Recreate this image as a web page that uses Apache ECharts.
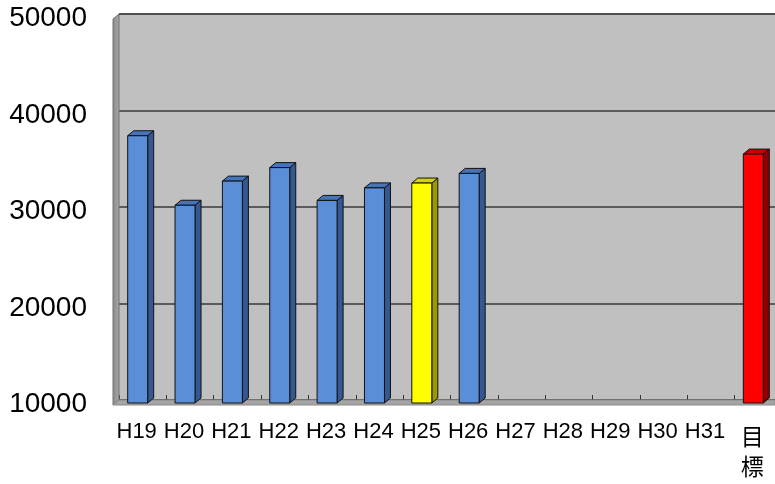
<!DOCTYPE html>
<html>
<head>
<meta charset="utf-8">
<script src="https://cdn.jsdelivr.net/npm/echarts@6/dist/echarts.min.js"></script>
<style>
  html, body { margin: 0; padding: 0; background: #fff; }
  #chart { width: 775px; height: 484px; }
</style>
</head>
<body>
<div id="chart"></div>
<script>
const categories = ['H19', 'H20', 'H21', 'H22', 'H23', 'H24', 'H25', 'H26', 'H27', 'H28', 'H29', 'H30', 'H31', '目標'];
const values = [37900, 30700, 33200, 34600, 31200, 32500, 33000, 34000, null, null, null, null, null, 36000];
const yTicks = [10000, 20000, 30000, 40000, 50000];

// 3d look: depth offset of the front face from the back wall
const DX = 6, DY = 5, BAR_W = 20;

function colorsFor(name) {
    if (name === 'H25') return { face: '#ffff00', side: '#9a9a00', top: '#d4d400' };
    if (name === '目標') return { face: '#ff0000', side: '#8c0000', top: '#c80000' };
    return { face: '#5a8ed8', side: '#34588f', top: '#4674bb' };
}

const barData = [];
values.forEach((v, i) => { if (v != null) barData.push([i, v]); });

const chart = echarts.init(document.getElementById('chart'));

function renderBar(params, api) {
    const idx = api.value(0);
    const p = api.coord([idx, api.value(1)]);
    const base = api.coord([idx, yTicks[0]]);
    const c = colorsFor(categories[idx]);
    const x0 = p[0] - DX - BAR_W / 2 + 1;
    const yTop = p[1] + DY;
    const yBot = base[1] + DY - 2;
    const stroke = { stroke: '#111', lineWidth: 1 };
    return {
        type: 'group',
        children: [
            { type: 'polygon', shape: { points: [[x0 + BAR_W, yTop], [x0 + BAR_W + DX, p[1]], [x0 + BAR_W + DX, base[1] - 2], [x0 + BAR_W, yBot]] },
              style: Object.assign({ fill: c.side }, stroke) },
            { type: 'polygon', shape: { points: [[x0, yTop], [x0 + DX, p[1]], [x0 + BAR_W + DX, p[1]], [x0 + BAR_W, yTop]] },
              style: Object.assign({ fill: c.top }, stroke) },
            { type: 'rect', shape: { x: x0, y: yTop, width: BAR_W, height: yBot - yTop },
              style: Object.assign({ fill: c.face }, stroke) }
        ]
    };
}

const option = {
    animation: false,
    backgroundColor: '#ffffff',
    grid: { left: 119, top: 14, width: 663, bottom: 84, outerBoundsMode: 'none', containLabel: false,
            show: true, backgroundColor: '#c0c0c0', borderWidth: 0 },
    graphic: [
        { type: 'polygon', z: 1, shape: { points: [[113, 19], [119, 14], [119, 400], [113, 405]] },
          style: { fill: new echarts.graphic.LinearGradient(0, 0, 1, 0, [{ offset: 0, color: '#8a8a8a' }, { offset: 1, color: '#a8a8a8' }]), stroke: '#707070', lineWidth: 1 } },
        { type: 'polygon', z: 1, shape: { points: [[113, 405], [119, 400], [775, 400], [775, 405]] },
          style: { fill: '#a4a4a4', stroke: '#8a8a8a', lineWidth: 1 } },
        { type: 'line', z: 1, shape: { x1: 119, y1: 14, x2: 775, y2: 14 }, style: { stroke: '#505050', lineWidth: 2 } }
    ],
    xAxis: {
        type: 'category',
        data: categories,
        axisLine: { show: false },
        axisTick: { show: true, inside: true, length: 5, alignWithLabel: false, lineStyle: { color: '#333' } },
        axisLabel: {
            interval: 0,
            margin: 21,
            color: '#000',
            fontSize: 22,
            fontFamily: 'Liberation Sans',
            padding: [0, 12, 0, 0],
            formatter: v => v === '目標' ? '{t|目}\n{t|標}' : v,
            rich: { t: { fontSize: 23, lineHeight: 30, fontFamily: 'Noto Sans CJK JP', color: '#000' } }
        }
    },
    yAxis: {
        type: 'value',
        min: yTicks[0],
        max: yTicks[yTicks.length - 1],
        interval: 10000,
        axisLine: { show: false },
        axisTick: { show: false },
        axisLabel: {
            margin: 32, color: '#000', fontSize: 28, fontFamily: 'Liberation Sans',
            formatter: v => '{n|' + v + '}',
            rich: { n: { fontSize: 28, fontFamily: 'Liberation Sans', color: '#000', padding: [9, 0, 0, 0] } }
        },
        splitLine: { lineStyle: { color: '#3a3a3a', width: 1.5 } }
    },
    series: [{
        type: 'custom',
        renderItem: renderBar,
        data: barData,
        z: 5
    }]
};
chart.setOption(option);
</script>
</body>
</html>
